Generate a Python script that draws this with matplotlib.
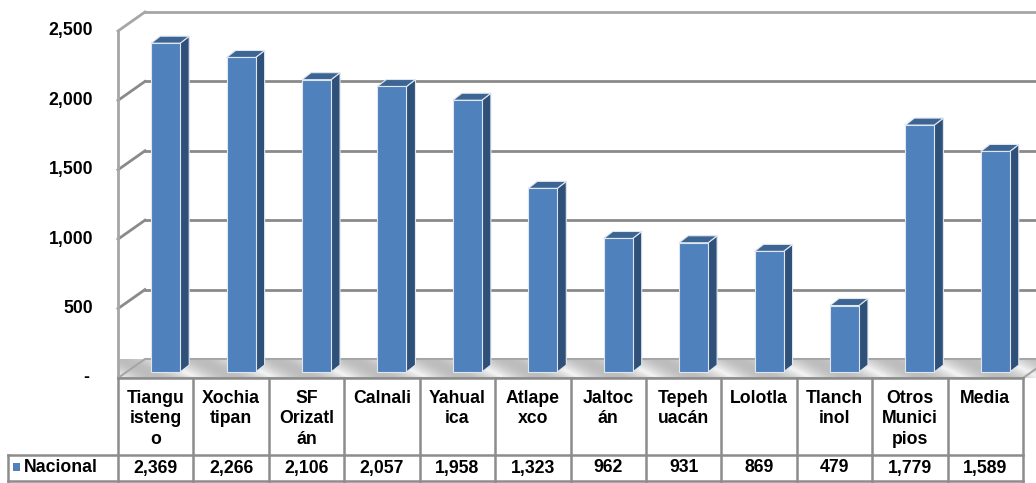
import numpy as np
import matplotlib
matplotlib.use("Agg")
import matplotlib.pyplot as plt
from matplotlib.patches import Polygon, Rectangle
from matplotlib.colors import LinearSegmentedColormap

############### Data ###############
categories = ["Tiangu\nisteng\no", "Xochia\ntipan", "SF\nOrizatl\nán", "Calnali",
              "Yahual\nica", "Atlape\nxco", "Jaltoc\nán", "Tepeh\nuacán",
              "Lolotla", "Tlanch\ninol", "Otros\nMunici\npios", "Media"]
values = [2369, 2266, 2106, 2057, 1958, 1323, 962, 931, 869, 479, 1779, 1589]
series_name = "Nacional"
y_ticks = [0, 500, 1000, 1500, 2000, 2500]
y_tick_labels = ["-", "500", "1,000", "1,500", "2,000", "2,500"]

############### Styling ###############
plt.rcParams['font.family'] = ['Liberation Sans', 'DejaVu Sans']
W, H = 1036, 483
FS = 12.7
front_col = "#4f81bd"
side_col = "#2f5079"
top_col = "#3c6594"
grid_col = "#8a8a8a"
frame_col = "#a6a6a6"
table_col = "#8c8c8c"

# front plane in pixels
left_px, right_px, base_px, top_px = 118, 1023, 378, 31
ymax = 2500
n = len(values)
ppx = (right_px - left_px) / n          # pixels per category
ppy = (base_px - top_px) / ymax          # pixels per value unit

def dx(px):
    return px / ppx

def dy(px):
    return px / ppy

def xd(px):
    # pixel x -> data x
    return -0.5 + (px - left_px) / ppx

def yf(px):
    # pixel y -> axes fraction
    return (base_px - px) / (base_px - top_px)

fig = plt.figure(figsize=(W / 100, H / 100), dpi=100)
ax = fig.add_axes([left_px / W, (H - base_px) / H, (right_px - left_px) / W, (base_px - top_px) / H])
ax.set_xlim(-0.5, n - 0.5)
ax.set_ylim(0, ymax)
ax.axis("off")

# depth of walls and bars
wdx, wdy = dx(27), dy(19)
bdx, bdy = dx(10), dy(6)
sdx, sdy = dx(9), dy(7)
bw = dx(29)

# floor with a soft gradient
floor = Polygon([(-0.5, 0), (n - 0.5, 0), (n - 0.5 + wdx, wdy), (-0.5 + wdx, wdy)],
                closed=True, facecolor="none", edgecolor=frame_col, lw=1.5, clip_on=False, zorder=2)
ax.add_patch(floor)
floor_cmap = LinearSegmentedColormap.from_list("floor", ["#f4f4f4", "#bdbdbd"])
xx = np.linspace(0, 1, 400)
yy = np.linspace(0, 1, 20)
X, Y = np.meshgrid(xx, yy)
shade = np.abs(np.sin((X * 40 + Y * 1.5) * np.pi / 3.3))
img = ax.imshow(shade, cmap=floor_cmap, aspect="auto", origin="lower",
                extent=(-0.5, n - 0.5 + wdx, 0, wdy), zorder=1, clip_on=False)
img.set_clip_path(floor)

# gridlines on back wall and left wall
for v in y_ticks[1:]:
    c = grid_col if v < ymax else frame_col
    ax.plot([-0.5 + wdx, n - 0.5 + wdx + 1], [v + wdy, v + wdy], color=c, lw=2, clip_on=False, zorder=1)
    ax.plot([-0.5, -0.5 + wdx], [v, v + wdy], color=c, lw=2, clip_on=False, zorder=1)
ax.plot([-0.5, -0.5], [0, ymax], color=frame_col, lw=2, clip_on=False, zorder=1)

# bars with a 3D look
for i, v in enumerate(values):
    x0 = i + bdx - bw / 2
    x1 = i + bdx + bw / 2
    y0 = bdy
    y1 = v + bdy
    ax.add_patch(Polygon([(x1, y0), (x1 + sdx, y0 + sdy), (x1 + sdx, y1 + sdy), (x1, y1)],
                         closed=True, facecolor=side_col, edgecolor="#dfe6ef", lw=0.8, clip_on=False, zorder=3))
    ax.add_patch(Polygon([(x0, y1), (x1, y1), (x1 + sdx, y1 + sdy), (x0 + sdx, y1 + sdy)],
                         closed=True, facecolor=top_col, edgecolor="#dfe6ef", lw=0.8, clip_on=False, zorder=3))
    ax.add_patch(Rectangle((x0, y0), bw, v, facecolor=front_col, edgecolor="#dfe6ef",
                           lw=0.8, clip_on=False, zorder=4))

# y tick labels
for v, lab in zip(y_ticks, y_tick_labels):
    xpos = xd(89) if lab == "-" else xd(93)
    ax.text(xpos, v, lab, ha="right", va="center", fontsize=FS, fontweight="bold", clip_on=False)

############### Data table ###############
tr = ax.get_xaxis_transform()
hdr_bot, row_bot = 455, 481
# vertical lines
for i in range(n + 1):
    ax.plot([i - 0.5, i - 0.5], [yf(base_px), yf(row_bot)], transform=tr, color=table_col, lw=1.8, clip_on=False)
ax.plot([xd(8), xd(8)], [yf(hdr_bot), yf(row_bot)], transform=tr, color=table_col, lw=1.8, clip_on=False)
# horizontal lines
for ypx in [hdr_bot, row_bot]:
    ax.plot([xd(8), n - 0.5], [yf(ypx), yf(ypx)], transform=tr, color=table_col, lw=1.8, clip_on=False)
ax.plot([-0.5, n - 0.5], [yf(base_px), yf(base_px)], transform=tr, color=table_col, lw=1.8, clip_on=False)

for i, (cat, v) in enumerate(zip(categories, values)):
    ax.text(i, yf(390), cat, transform=tr, ha="center", va="top", ma="center",
            fontsize=FS, fontweight="bold", linespacing=1.25, clip_on=False)
    ax.text(i, yf(468), f"{v:,}", transform=tr, ha="center", va="center",
            fontsize=FS, fontweight="bold", clip_on=False)

# legend key + row label
ax.add_patch(Rectangle((xd(13), yf(471)), dx(7), 8 / (base_px - top_px), transform=tr,
                       facecolor=front_col, edgecolor="none", clip_on=False))
ax.text(xd(24), yf(468), series_name, transform=tr, ha="left", va="center",
        fontsize=FS, fontweight="bold", clip_on=False)

fig.savefig("out.png", dpi=100)
